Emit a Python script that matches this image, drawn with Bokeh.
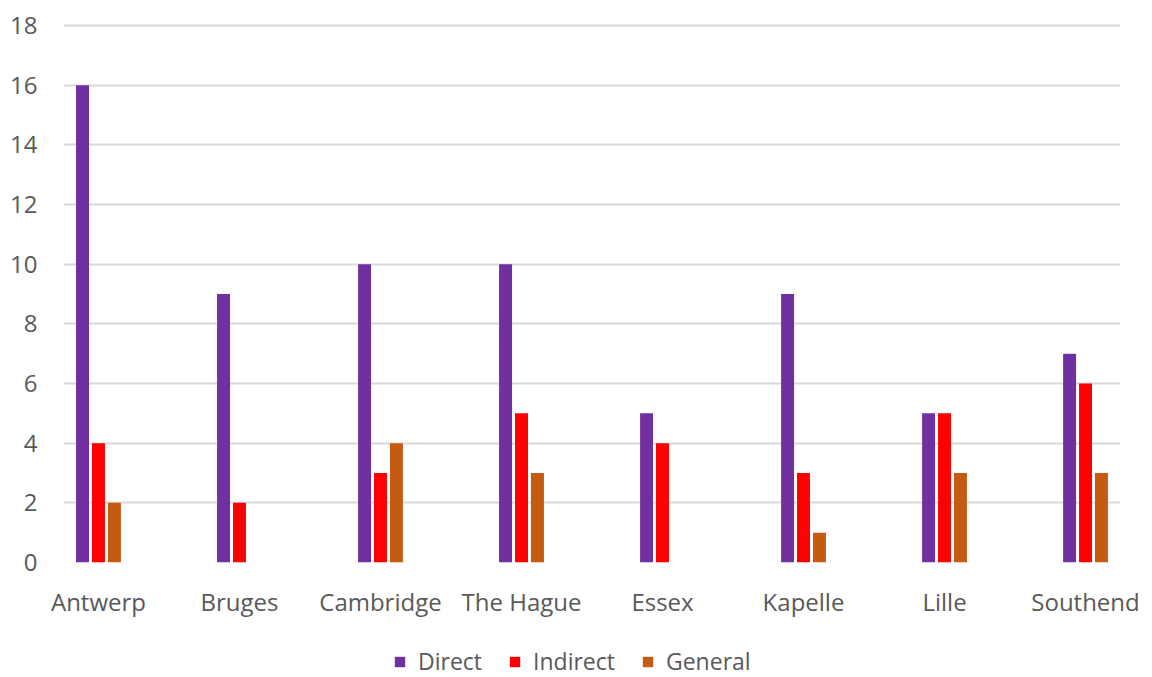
from bokeh.plotting import figure
from bokeh.models import ColumnDataSource, Range1d, FixedTicker, Legend, LegendItem
from bokeh.layouts import column
from bokeh.transform import dodge
from bokeh.embed import file_html
from bokeh.resources import INLINE

categories = ["Antwerp", "Bruges", "Cambridge", "The Hague", "Essex", "Kapelle", "Lille", "Southend"]
direct = [16, 9, 10, 10, 5, 9, 5, 7]
indirect = [4, 2, 3, 5, 4, 3, 5, 6]
general = [2, 0, 4, 3, 0, 1, 3, 3]
y_ticks = [0, 2, 4, 6, 8, 10, 12, 14, 16, 18]
series = ["Direct", "Indirect", "General"]
colors = ["#7030A0", "#FF0000", "#C55A11"]

FONT = "Open Sans"
TXT = "#595959"

src = ColumnDataSource(dict(x=list(range(len(categories))), direct=direct,
                            indirect=indirect, general=general))

p = figure(width=1152, height=620, output_backend="svg", toolbar_location=None,
           x_range=Range1d(-0.248, 7.248), y_range=Range1d(0, 18.07),
           min_border_left=63, min_border_right=32, min_border_top=23, min_border_bottom=57)
p.outline_line_color = None
p.background_fill_color = "white"
p.border_fill_color = "white"

w = 0.092
off = 0.113
for key, dx, col in zip(["direct", "indirect", "general"], [-off, 0, off], colors):
    p.vbar(x=dodge("x", dx, range=p.x_range), top=key, width=w, source=src,
           fill_color=col, line_color=None)

p.xgrid.visible = False
p.ygrid.ticker = FixedTicker(ticks=y_ticks)
p.ygrid.grid_line_color = "#D9D9D9"
p.ygrid.grid_line_width = 2
p.ygrid.level = "underlay"

p.yaxis.ticker = FixedTicker(ticks=y_ticks)
p.xaxis.ticker = FixedTicker(ticks=list(range(len(categories))))
p.xaxis.major_label_overrides = {i: c for i, c in enumerate(categories)}
for ax in (p.xaxis[0], p.yaxis[0]):
    ax.axis_line_color = None
    ax.major_tick_line_color = None
    ax.minor_tick_line_color = None
    ax.major_tick_in = 0
    ax.major_tick_out = 0
    ax.major_label_text_font = FONT
    ax.major_label_text_font_size = "24px"
    ax.major_label_text_color = TXT
p.yaxis.major_label_standoff = 26
p.xaxis.major_label_standoff = 22

# legend strip (separate small figure below the chart; its frame aligns with the chart's)
pl = figure(width=1152, height=57, output_backend="svg", toolbar_location=None,
            x_axis_location=None, y_axis_location=None,
            x_range=Range1d(0, 1), y_range=Range1d(0, 1),
            min_border_left=0, min_border_right=0, min_border_top=0, min_border_bottom=0)
pl.grid.visible = False
pl.outline_line_color = None
pl.background_fill_color = "white"
pl.border_fill_color = "white"
items = []
for name, col in zip(series, colors):
    r = pl.vbar(x=[0.5], top=[float("nan")], width=0.1, fill_color=col, line_color=None)
    items.append(LegendItem(label=name, renderers=[r]))
legend = Legend(items=items, orientation="horizontal", location=(330, 0),
                glyph_width=13, glyph_height=13, label_standoff=12, spacing=26,
                padding=0, margin=0, border_line_color=None, background_fill_alpha=0,
                label_text_font=FONT, label_text_font_size="23px", label_text_color=TXT)
pl.add_layout(legend, "center")

layout = column(p, pl, spacing=0)
open("out.html", "w").write(file_html(layout, INLINE))
